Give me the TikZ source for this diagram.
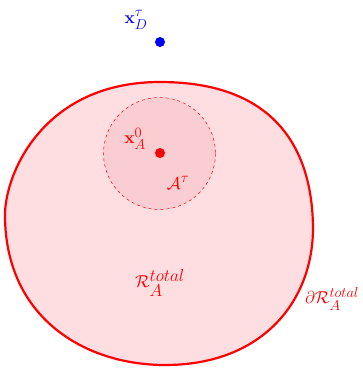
\documentclass[tikz,border=0pt]{standalone}
\usepackage{amsmath,bm}
\DeclareMathSizes{17}{17}{14}{11}
\DeclareMathSizes{18}{18}{15}{11}
\DeclareMathSizes{19}{19}{16}{12}
\definecolor{blobfill}{RGB}{255,222,226}
\definecolor{innerfill}{RGB}{250,205,210}
\begin{document}
\begin{tikzpicture}[x=1pt,y=-1pt,
  lbl/.style={inner sep=0pt,font=\fontsize{17}{20}\selectfont},
  biglbl/.style={inner sep=0pt,font=\fontsize{19}{22}\selectfont},
  edgelbl/.style={inner sep=0pt,font=\fontsize{18}{21}\selectfont},
  dot/.style={circle,inner sep=0pt,minimum size=10pt}]
\useasboundingbox (0,0) rectangle (362,370);
% region boundary
\draw[red,line width=2.2pt,fill=blobfill]
  (160,82) .. controls (276,82) and (313,150) .. (313,230)
  .. controls (312,302) and (262,365) .. (165,365)
  .. controls (84,365) and (5,317) .. (5,215)
  .. controls (5,173) and (44,82) .. (160,82) -- cycle;
% reachable set circle
\draw[red,dashed,line width=0.5pt,fill=innerfill] (159.5,153.5) circle (56);
\node[dot,fill=red] (xa) at (160,153) {};
\node[dot,fill=blue] (xd) at (160,42) {};
\node[lbl,text=blue] (lxd) at (136,20) {$\mathbf{x}_{D}^{\tau}$};
\node[lbl,text=red] (lxa) at (135,139) {$\mathbf{x}_{A}^{0}$};
\node[lbl,text=red] (lat) at (178,183) {$\mathcal{A}^{\tau}$};
\node[biglbl,text=red] (lr) at (160,283) {$\mathcal{R}_{A}^{total}$};
\node[edgelbl,text=red] (ldr) at (332,299) {$\partial\mathcal{R}_{A}^{total}$};
\end{tikzpicture}
\end{document}
